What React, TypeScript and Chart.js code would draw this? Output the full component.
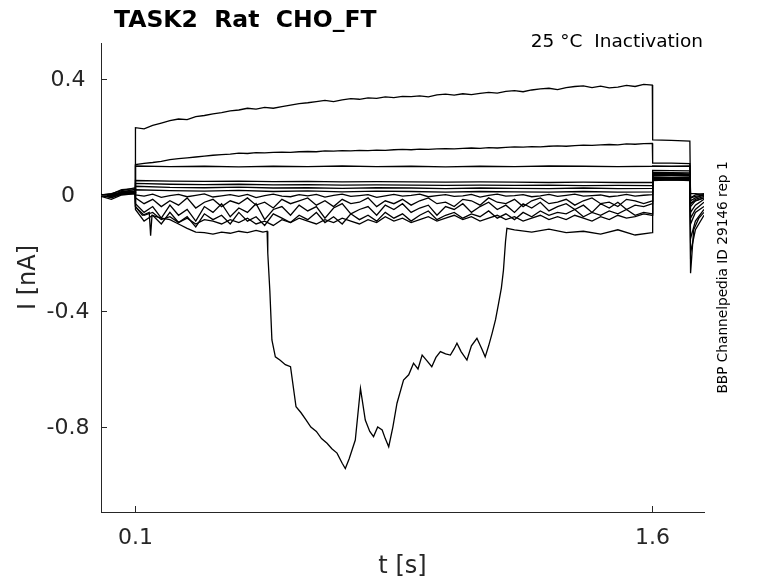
import { useEffect, useRef } from "react";
import { Chart, ChartConfiguration, registerables } from "chart.js";

Chart.register(...registerables);

const titleText = "TASK2  Rat  CHO_FT";
const conditionText = "25 °C  Inactivation";
const sideText = "BBP Channelpedia ID 29146 rep 1";
const xLabel = "t [s]";
const yLabel = "I [nA]";

const xTicks = [0.1, 1.6];
const xTickLabels = ["0.1", "1.6"];
const yTicks = [0.4, 0, -0.4, -0.8];
const yTickLabels = ["0.4", "0", "-0.4", "-0.8"];

// time bases (s)
const tPre = [0, 0.03, 0.06, 0.099];
const tStepCoarse = [0.1, 0.2, 0.3, 0.4, 0.5, 0.6, 0.7, 0.8, 0.9, 1.0, 1.1, 1.2, 1.3, 1.4, 1.5, 1.6];
const tStepFine = [
  0.1, 0.125, 0.15, 0.175, 0.2, 0.225, 0.25, 0.275, 0.3, 0.325,
  0.35, 0.375, 0.4, 0.425, 0.45, 0.475, 0.5, 0.525, 0.55, 0.575,
  0.6, 0.625, 0.65, 0.675, 0.7, 0.725, 0.75, 0.775, 0.8, 0.825,
  0.85, 0.875, 0.9, 0.925, 0.95, 0.975, 1.0, 1.025, 1.05, 1.075,
  1.1, 1.125, 1.15, 1.175, 1.2, 1.225, 1.25, 1.275, 1.3, 1.325,
  1.35, 1.375, 1.4, 1.425, 1.45, 1.475, 1.5, 1.525, 1.55, 1.575, 1.6,
];
const tSeg2 = [1.601, 1.655, 1.709];
const tTail = [1.711, 1.725, 1.75];

const tSmooth = [...tPre, ...tStepCoarse, ...tSeg2, ...tTail];
const tFine = [...tPre, ...tStepFine, ...tSeg2, ...tTail];

// currents (nA)
const iTrace1 = [
  0, 0.003, 0.018, 0.022,
  0.232, 0.228, 0.24, 0.248, 0.256, 0.262, 0.26, 0.27, 0.274, 0.28,
  0.284, 0.29, 0.293, 0.299, 0.296, 0.302, 0.299, 0.305, 0.31, 0.315,
  0.318, 0.322, 0.326, 0.322, 0.328, 0.332, 0.33, 0.335, 0.333, 0.338,
  0.336, 0.34, 0.339, 0.342, 0.338, 0.345, 0.348, 0.344, 0.349, 0.346,
  0.35, 0.354, 0.351, 0.357, 0.36, 0.356, 0.362, 0.366, 0.368, 0.363,
  0.37, 0.374, 0.376, 0.37, 0.375, 0.369, 0.372, 0.378, 0.374, 0.381, 0.379,
  0.19, 0.188, 0.186,
  -0.02, -0.01, 0,
];
const iTrace2 = [
  0, -0.004, 0.012, 0.015,
  0.105, 0.109, 0.112, 0.116, 0.122, 0.125, 0.128, 0.131, 0.134, 0.137,
  0.139, 0.141, 0.144, 0.143, 0.146, 0.145, 0.147, 0.148, 0.147, 0.149,
  0.15, 0.149, 0.152, 0.151, 0.153, 0.152, 0.154, 0.153, 0.155, 0.154,
  0.156, 0.157, 0.156, 0.158, 0.157, 0.159, 0.16, 0.159, 0.161, 0.162,
  0.161, 0.163, 0.162, 0.164, 0.166, 0.165, 0.167, 0.166, 0.168, 0.169,
  0.168, 0.17, 0.172, 0.171, 0.173, 0.174, 0.173, 0.176, 0.175, 0.177, 0.178,
  0.11, 0.11, 0.108,
  -0.04, -0.02, -0.01,
];
const iTrace3 = [-0.002, 0.004, 0.008, 0.01, 0.1, 0.098, 0.099, 0.097, 0.099, 0.098, 0.1, 0.098, 0.099, 0.097, 0.099, 0.098, 0.1, 0.099, 0.098, 0.099, 0.1, 0.099, 0.1, -0.06, -0.035, -0.015];
const iTrace4 = [0.002, -0.003, 0.01, 0.012, 0.05, 0.048, 0.047, 0.048, 0.046, 0.047, 0.045, 0.046, 0.045, 0.044, 0.045, 0.044, 0.043, 0.044, 0.043, 0.043, 0.085, 0.084, 0.083, 0.005, 0.005, 0.002];
const iTrace5 = [0, 0.002, 0.006, 0.008, 0.04, 0.037, 0.036, 0.037, 0.035, 0.036, 0.034, 0.035, 0.034, 0.033, 0.034, 0.033, 0.034, 0.032, 0.033, 0.032, 0.078, 0.077, 0.076, -0.01, -0.005, 0];
const iTrace6 = [-0.003, 0.001, 0.004, 0.006, 0.03, 0.026, 0.025, 0.027, 0.024, 0.025, 0.023, 0.025, 0.024, 0.022, 0.024, 0.023, 0.022, 0.024, 0.022, 0.023, 0.075, 0.074, 0.073, -0.1, -0.06, -0.04];
const iTrace7 = [0.001, -0.002, 0.005, 0.004, 0.018, 0.015, 0.013, 0.016, 0.012, 0.014, 0.011, 0.013, 0.012, 0.01, 0.012, 0.011, 0.01, 0.012, 0.01, 0.011, 0.072, 0.07, 0.07, -0.03, -0.02, -0.01];

const iTrace8 = [
  0, -0.005, 0.01, 0.02,
  0.0, -0.004, 0.003, -0.008, -0.002, 0.002, -0.006, -0.001, 0.004, -0.007,
  -0.003, 0.001, -0.005, 0.002, -0.009, -0.002, 0.003, -0.004, -0.006, 0.001,
  -0.003, 0.002, -0.007, -0.001, 0.003, -0.005, -0.002, 0.001, -0.008, -0.003,
  0.002, -0.004, -0.001, 0.003, -0.006, -0.002, 0.001, -0.005, -0.003, 0.002,
  -0.007, -0.001, 0.003, -0.004, -0.002, 0.001, -0.006, -0.003, 0.002, -0.005,
  -0.001, 0.003, -0.004, -0.002, 0.0, -0.006, -0.003, 0.002, -0.004, -0.001, 0.001,
  0.068, 0.067, 0.068,
  -0.01, 0, 0.005,
];
const iTrace9 = [
  0.002, -0.01, 0.005, 0.01,
  -0.01, -0.03, -0.015, -0.04, -0.02, -0.035, -0.01, -0.045, -0.025, -0.015,
  -0.04, -0.02, -0.03, -0.01, -0.035, -0.025, -0.045, -0.015, -0.03, -0.02,
  -0.01, -0.035, -0.02, -0.04, -0.015, -0.03, -0.025, -0.01, -0.04, -0.02,
  -0.03, -0.015, -0.035, -0.02, -0.01, -0.03, -0.025, -0.04, -0.015, -0.02,
  -0.035, -0.01, -0.025, -0.03, -0.015, -0.04, -0.02, -0.01, -0.03, -0.025,
  -0.015, -0.035, -0.02, -0.01, -0.03, -0.025, -0.04, -0.015, -0.02, -0.03, -0.02,
  0.062, 0.061, 0.062,
  -0.03, -0.015, -0.005,
];
const iTrace10 = [
  -0.005, -0.015, 0, 0.005,
  -0.03, -0.06, -0.04, -0.08, -0.035, -0.07, -0.05, -0.09, -0.04, -0.06,
  -0.03, -0.075, -0.045, -0.06, -0.03, -0.085, -0.05, -0.04, -0.07, -0.035,
  -0.055, -0.04, -0.08, -0.045, -0.03, -0.065, -0.05, -0.04, -0.07, -0.035,
  -0.05, -0.03, -0.06, -0.045, -0.035, -0.07, -0.04, -0.05, -0.03, -0.06,
  -0.04, -0.025, -0.05, -0.035, -0.06, -0.03, -0.045, -0.025, -0.055, -0.04,
  -0.03, -0.05, -0.035, -0.06, -0.03, -0.045, -0.025, -0.05, -0.035, -0.04, -0.03,
  0.058, 0.057, 0.058,
  -0.08, -0.05, -0.025,
];
const iTrace11 = [
  0, 0.005, 0.015, 0.025,
  -0.05, -0.09, -0.07, -0.1, -0.06, -0.095, -0.075, -0.11, -0.065, -0.085,
  -0.07, -0.1, -0.06, -0.09, -0.075, -0.105, -0.065, -0.08, -0.095, -0.07,
  -0.085, -0.06, -0.095, -0.075, -0.1, -0.065, -0.085, -0.07, -0.09, -0.06,
  -0.08, -0.065, -0.09, -0.07, -0.055, -0.085, -0.07, -0.06, -0.08, -0.065,
  -0.075, -0.055, -0.08, -0.065, -0.085, -0.06, -0.075, -0.055, -0.07, -0.06,
  -0.065, -0.05, -0.075, -0.06, -0.07, -0.055, -0.065, -0.05, -0.07, -0.06, -0.065,
  0.055, 0.054, 0.055,
  -0.15, -0.09, -0.05,
];
const iTrace12 = [
  -0.003, -0.008, 0.002, 0.01,
  -0.04, -0.07, -0.06, -0.085, -0.075, -0.095, -0.08, -0.1, -0.085, -0.09,
  -0.1, -0.085, -0.095, -0.08, -0.1, -0.09, -0.105, -0.085, -0.095, -0.08,
  -0.09, -0.1, -0.085, -0.095, -0.08, -0.09, -0.1, -0.085, -0.095, -0.075,
  -0.09, -0.08, -0.095, -0.085, -0.075, -0.09, -0.08, -0.07, -0.085, -0.075,
  -0.09, -0.08, -0.07, -0.085, -0.075, -0.09, -0.08, -0.07, -0.085, -0.075,
  -0.085, -0.07, -0.08, -0.09, -0.075, -0.085, -0.07, -0.08, -0.075, -0.065, -0.07,
  0.052, 0.051, 0.052,
  -0.2, -0.12, -0.07,
];

// the sweep with the large inward current
const tBig = [
  0, 0.03, 0.06, 0.099,
  0.1, 0.12, 0.14, 0.144, 0.148, 0.175, 0.2, 0.225, 0.25, 0.275, 0.3, 0.325, 0.35, 0.375, 0.4, 0.425, 0.45, 0.47, 0.482,
  0.484, 0.49, 0.496, 0.506, 0.52, 0.535, 0.55, 0.566, 0.58, 0.595, 0.609, 0.625, 0.64, 0.656, 0.67, 0.685, 0.7, 0.709,
  0.72, 0.738, 0.753, 0.767, 0.78, 0.791, 0.803, 0.816, 0.825, 0.835, 0.847, 0.859, 0.878, 0.893, 0.907, 0.92, 0.932,
  0.945, 0.96, 0.972, 0.985, 1.0, 1.014, 1.025, 1.033, 1.045, 1.062, 1.075, 1.091, 1.105, 1.115, 1.125, 1.135, 1.145,
  1.154, 1.162, 1.168, 1.174, 1.178, 1.2, 1.25, 1.3, 1.35, 1.4, 1.45, 1.5, 1.55, 1.6,
  1.601, 1.655, 1.709,
  1.711, 1.72, 1.735, 1.75,
];
const iBig = [
  0, -0.005, 0.005, 0.01,
  -0.04, -0.07, -0.06, -0.14, -0.07, -0.08, -0.085, -0.1, -0.115, -0.128, -0.13, -0.135, -0.128, -0.132, -0.125, -0.13, -0.122, -0.128, -0.125,
  -0.2, -0.33, -0.5, -0.558, -0.57, -0.585, -0.592, -0.73, -0.75, -0.775, -0.8, -0.815, -0.84, -0.856, -0.875, -0.89, -0.925, -0.943,
  -0.91, -0.845, -0.667, -0.776, -0.815, -0.833, -0.8, -0.81, -0.84, -0.868, -0.8, -0.718, -0.638, -0.62, -0.58, -0.6, -0.552,
  -0.57, -0.592, -0.56, -0.54, -0.548, -0.552, -0.53, -0.511, -0.54, -0.569, -0.52, -0.494, -0.53, -0.558, -0.52, -0.477, -0.43,
  -0.373, -0.32, -0.259, -0.16, -0.115, -0.12, -0.128, -0.118, -0.13, -0.125, -0.135, -0.12, -0.138, -0.13,
  0.05, 0.052, 0.05,
  -0.27, -0.12, -0.08, -0.06,
];

const axisColor = "#262626";
const fontFamily = '"DejaVu Sans", sans-serif';

function toPoints(times: number[], values: number[]) {
  return values.map((y, i) => ({ x: times[i], y }));
}

const decorations = {
  id: "decorations",
  afterDraw(chart: Chart) {
    const { ctx, chartArea, scales } = chart;
    ctx.save();
    // inward tick marks and tick labels
    ctx.strokeStyle = axisColor;
    ctx.fillStyle = axisColor;
    ctx.lineWidth = 1;
    ctx.font = `22px ${fontFamily}`;
    ctx.textAlign = "center";
    ctx.textBaseline = "alphabetic";
    xTicks.forEach((v, i) => {
      const px = Math.round(scales.x.getPixelForValue(v)) + 0.5;
      ctx.beginPath();
      ctx.moveTo(px, chartArea.bottom);
      ctx.lineTo(px, chartArea.bottom - 6);
      ctx.stroke();
      ctx.fillText(xTickLabels[i], px, chartArea.bottom + 32);
    });
    ctx.textBaseline = "middle";
    yTicks.forEach((v, i) => {
      const py = Math.round(scales.y.getPixelForValue(v)) + 0.5;
      ctx.beginPath();
      ctx.moveTo(chartArea.left, py);
      ctx.lineTo(chartArea.left + 6, py);
      ctx.stroke();
      ctx.fillText(yTickLabels[i], chartArea.left - 33, py + 1);
    });

    ctx.fillStyle = "#000";
    ctx.textBaseline = "alphabetic";
    ctx.font = `bold 23.5px ${fontFamily}`;
    ctx.textAlign = "left";
    ctx.fillText(titleText, 114, 27);

    ctx.font = `18.5px ${fontFamily}`;
    ctx.textAlign = "right";
    ctx.fillText(conditionText, 703, 47);

    ctx.fillStyle = axisColor;
    ctx.font = `24px ${fontFamily}`;
    ctx.textAlign = "center";
    ctx.textBaseline = "middle";
    ctx.fillText(xLabel, (chartArea.left + chartArea.right) / 2, 567);

    ctx.save();
    ctx.translate(29, (chartArea.top + chartArea.bottom) / 2);
    ctx.rotate(-Math.PI / 2);
    ctx.fillText(yLabel, 0, 0);
    ctx.restore();

    ctx.save();
    ctx.fillStyle = "#000";
    ctx.translate(727, (chartArea.top + chartArea.bottom) / 2);
    ctx.rotate(-Math.PI / 2);
    ctx.font = `13.7px ${fontFamily}`;
    ctx.textBaseline = "alphabetic";
    ctx.fillText(sideText, 0, 0);
    ctx.restore();

    ctx.restore();
  },
};

export default function App() {
  const canvasRef = useRef<HTMLCanvasElement>(null);
  const chartRef = useRef<Chart | null>(null);

  useEffect(() => {
    if (!canvasRef.current) return;
    if (chartRef.current) chartRef.current.destroy();
    const ctx = canvasRef.current.getContext("2d");
    if (!ctx) return;

    const sweeps = [
      toPoints(tFine, iTrace1),
      toPoints(tFine, iTrace2),
      toPoints(tSmooth, iTrace3),
      toPoints(tSmooth, iTrace4),
      toPoints(tSmooth, iTrace5),
      toPoints(tSmooth, iTrace6),
      toPoints(tSmooth, iTrace7),
      toPoints(tFine, iTrace8),
      toPoints(tFine, iTrace9),
      toPoints(tFine, iTrace10),
      toPoints(tFine, iTrace11),
      toPoints(tFine, iTrace12),
      toPoints(tBig, iBig),
    ];

    const config: ChartConfiguration<"line"> = {
      type: "line",
      data: {
        datasets: sweeps.map((data) => ({
          data,
          borderColor: "#000",
          borderWidth: 1.3,
          pointRadius: 0,
          tension: 0,
          fill: false,
        })),
      },
      options: {
        animation: false,
        responsive: true,
        maintainAspectRatio: false,
        layout: { padding: { top: 43, right: 74, left: 0, bottom: 0 } },
        plugins: {
          legend: { display: false },
          tooltip: { enabled: false },
          title: { display: false },
        },
        scales: {
          x: {
            type: "linear",
            min: 0,
            max: 1.75,
            grid: { display: false },
            border: { display: true, color: axisColor, width: 1 },
            ticks: { display: false },
            afterFit: (scale) => {
              scale.height = 71;
            },
          },
          y: {
            type: "linear",
            min: -1.093,
            max: 0.524,
            grid: { display: false },
            border: { display: true, color: axisColor, width: 1 },
            ticks: { display: false },
            afterFit: (scale) => {
              scale.width = 101;
            },
          },
        },
      },
      plugins: [decorations],
    };

    chartRef.current = new Chart(ctx, config);

    return () => {
      if (chartRef.current) {
        chartRef.current.destroy();
        chartRef.current = null;
      }
    };
  }, []);

  return (
    <div style={{ position: "fixed", left: 0, top: 0, width: 778, height: 583, background: "#fff" }}>
      <canvas ref={canvasRef} />
    </div>
  );
}
